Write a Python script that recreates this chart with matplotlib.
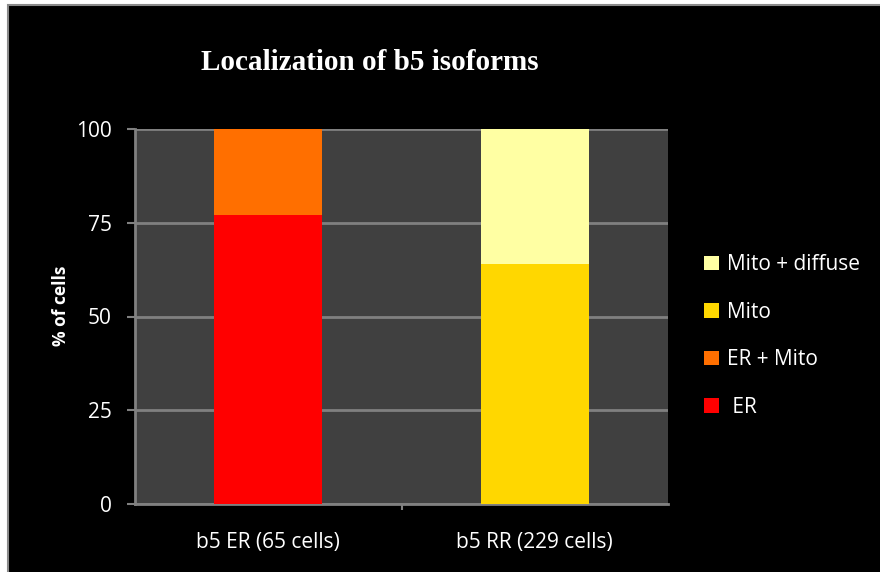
import matplotlib
matplotlib.use("Agg")
import matplotlib.pyplot as plt
from matplotlib.patches import Rectangle, Patch
import numpy as np

# Data: percentage of cells per localization class for each b5 isoform
categories = ["b5 ER (65 cells)", "b5 RR (229 cells)"]
series_names = [" ER", "ER + Mito", "Mito", "Mito + diffuse"]
series_values = {
    " ER":            [77, 0],
    "ER + Mito":      [23, 0],
    "Mito":           [0, 64],
    "Mito + diffuse": [0, 36],
}
series_colors = {
    " ER": "#FF0000",
    "ER + Mito": "#FF6F00",
    "Mito": "#FFD700",
    "Mito + diffuse": "#FFFFA3",
}
yticks = [0, 25, 50, 75, 100]

W, H = 880, 572
fig = plt.figure(figsize=(W / 100, H / 100), dpi=100, facecolor="white")

# black slide-style backdrop; its grey frame shows only on the top and left
fig.patches.append(Rectangle((8 / W, -0.05), 1.1, 1.05 - 5 / H, transform=fig.transFigure,
                             facecolor="black", edgecolor="#8a8a8a", linewidth=1.5, zorder=-10))

ax = fig.add_axes([135 / W, 68 / H, 533 / W, 375 / H])
ax.set_facecolor("#404040")

x = np.arange(len(categories))
bottom = np.zeros(len(categories))
handles = []
for name in series_names:
    vals = np.array(series_values[name], dtype=float)
    ax.bar(x, vals, width=0.405, bottom=bottom, color=series_colors[name], zorder=3, linewidth=0)
    bottom += vals
    handles.append(Patch(facecolor=series_colors[name], edgecolor="none", label=name))

ax.set_xlim(-0.5, 1.5)
ax.set_ylim(0, 100)
ax.set_yticks(yticks)
ax.set_yticklabels([str(v) for v in yticks])
ax.yaxis.grid(True, color="#808080", linewidth=2, zorder=1)
ax.set_axisbelow(True)

ax.set_xticks(x)
ax.set_xticklabels(categories)
ax.set_xticks([0.5], minor=True)
ax.tick_params(axis="x", which="major", length=0, pad=20, colors="white", labelsize=15)
ax.tick_params(axis="x", which="minor", length=4.5, width=1.5, color="#808080")
ax.tick_params(axis="y", length=5.8, width=1.5, color="#808080", colors="white", labelsize=15, pad=11)

for side in ("top", "right"):
    ax.spines[side].set_visible(False)
for side in ("left", "bottom"):
    ax.spines[side].set_color("#808080")
    ax.spines[side].set_linewidth(2)

for lab in ax.get_xticklabels() + ax.get_yticklabels():
    lab.set_fontfamily("Open Sans")

ax.set_ylabel("% of cells", color="white", fontsize=12.5, fontweight="bold",
              fontfamily="Open Sans")
ax.yaxis.set_label_coords((70 - 135) / 533, (504 - 306) / 375)

fig.text(370 / W, 1 - 63 / H, "Localization of b5 isoforms", color="white",
         fontsize=21, fontweight="bold", fontfamily="Liberation Serif",
         ha="center", va="center")

leg = fig.legend(handles=handles[::-1], loc="center left",
                 bbox_to_anchor=(685 / W, 1 - 336 / H), frameon=False,
                 handlelength=0.72, handleheight=0.72, handletextpad=0.4,
                 labelspacing=1.27, prop={"family": "Open Sans", "size": 15})
for t in leg.get_texts():
    t.set_color("white")

fig.savefig("out.png", dpi=100, facecolor=fig.get_facecolor())
